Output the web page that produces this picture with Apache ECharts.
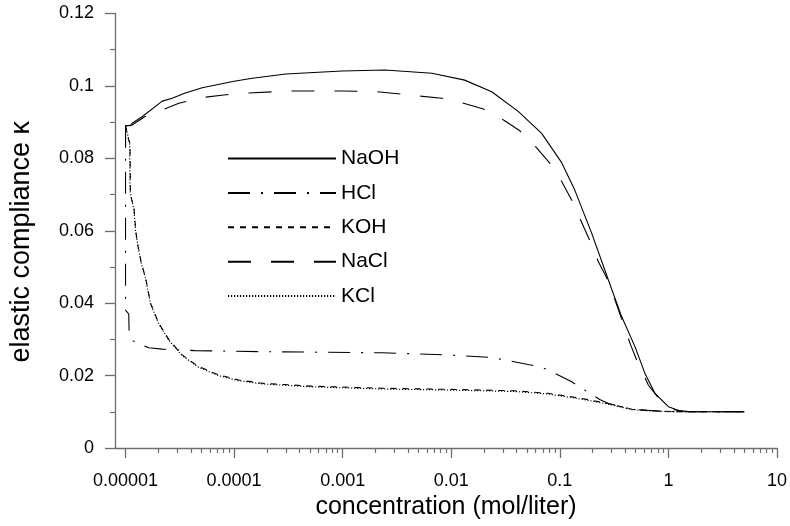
<!DOCTYPE html>
<html>
<head>
<meta charset="utf-8">
<script src="https://cdn.jsdelivr.net/npm/echarts@6/dist/echarts.min.js"></script>
<style>
  html, body { margin: 0; padding: 0; background: #fff; }
  #chart { width: 790px; height: 526px; }
</style>
</head>
<body>
<div id="chart"></div>
<script>
// concentration (mol/liter), elastic compliance
const naohData = [
  [1e-5, 0.0834], [1e-5, 0.089], [1.11e-5, 0.089], [1.15e-5, 0.0897], [1.42e-5, 0.0915],
  [2.18e-5, 0.0958], [2.69e-5, 0.0966], [3.5e-5, 0.098], [5.08e-5, 0.0995], [1e-4, 0.1013],
  [1.47e-4, 0.1021], [3e-4, 0.1033], [9.86e-4, 0.1041], [2.45e-3, 0.1044], [6.64e-3, 0.1035],
  [0.0133, 0.1016], [0.0236, 0.0984], [0.0416, 0.0929], [0.068, 0.0869], [0.104, 0.0788],
  [0.137, 0.0713], [0.196, 0.0594], [0.28, 0.0464], [0.371, 0.0363], [0.492, 0.028],
  [0.608, 0.0206], [0.752, 0.0151], [1.0, 0.0114], [1.32, 0.0101], [2, 0.01], [5, 0.01]
]
const hclData = [
  [1e-5, 0.089], [1e-5, 0.0381], [1.07e-5, 0.037], [1.08e-5, 0.0317], [1.15e-5, 0.0298],
  [1.28e-5, 0.0289], [1.64e-5, 0.0277], [2.18e-5, 0.0273], [4.38e-5, 0.0269], [1.81e-4, 0.0266],
  [2.3e-3, 0.0263], [9.45e-3, 0.0257], [0.0236, 0.025], [0.0446, 0.0234], [0.068, 0.0223],
  [0.0841, 0.0211], [0.1285, 0.0183], [0.1693, 0.016], [0.233, 0.0134], [0.28, 0.0123],
  [0.46, 0.0107], [0.8, 0.0102], [1.3, 0.01], [5, 0.01]
]
const kohData = [
  [1e-5, 0.089], [1.05e-5, 0.086], [1.1e-5, 0.084], [1.11e-5, 0.07], [1.2e-5, 0.066],
  [1.24e-5, 0.06], [1.3e-5, 0.056], [1.4e-5, 0.051], [1.53e-5, 0.047], [1.7e-5, 0.04],
  [2.03e-5, 0.0344], [2.5e-5, 0.03], [3.3e-5, 0.0258], [4.7e-5, 0.0225], [7.2e-5, 0.0202],
  [1.1e-4, 0.0188], [1.8e-4, 0.0179], [5e-4, 0.0171], [2.3e-3, 0.0165], [9.5e-3, 0.0162],
  [0.0385, 0.0158], [0.0785, 0.0151], [0.158, 0.0137], [0.28, 0.0123], [0.46, 0.0107],
  [0.8, 0.0102], [1.3, 0.01], [5, 0.01]
]
const naclData = [
  [1e-5, 0.089], [1.15e-5, 0.0892], [1.5e-5, 0.0915], [2.18e-5, 0.0934], [3.1e-5, 0.0952],
  [5.08e-5, 0.0968], [8.04e-5, 0.0975], [1.26e-4, 0.098], [3.19e-4, 0.0986], [9.86e-4, 0.0986],
  [2.07e-3, 0.0984], [5.14e-3, 0.0972], [8.2e-3, 0.0966], [0.013, 0.0952], [0.0198, 0.0936],
  [0.0303, 0.0906], [0.0428, 0.0876], [0.0612, 0.0829], [0.0807, 0.0787], [0.104, 0.0736],
  [0.1285, 0.0685], [0.158, 0.0625], [0.188, 0.0574], [0.226, 0.0515], [0.27, 0.047],
  [0.322, 0.0409], [0.443, 0.0289], [0.51, 0.0243], [0.653, 0.0174], [0.835, 0.0133],
  [1.15, 0.0105], [1.6, 0.01], [5, 0.01]
]
const kclData = [
  [1e-5, 0.089], [1.04e-5, 0.087], [1.09e-5, 0.084], [1.1e-5, 0.071], [1.19e-5, 0.066],
  [1.24e-5, 0.0598], [1.3e-5, 0.0558], [1.4e-5, 0.0508], [1.53e-5, 0.0468], [1.7e-5, 0.0398],
  [2.03e-5, 0.0342], [2.5e-5, 0.0298], [3.3e-5, 0.0256], [4.7e-5, 0.0223], [7.2e-5, 0.02],
  [1.1e-4, 0.0186], [1.8e-4, 0.0177], [5e-4, 0.0169], [2.3e-3, 0.0163], [9.5e-3, 0.016],
  [0.0385, 0.0156], [0.0785, 0.0149], [0.158, 0.0135], [0.28, 0.0121], [0.46, 0.0106],
  [0.8, 0.0101], [1.3, 0.01], [5, 0.01]
]

const seriesNames = ['NaOH', 'HCl', 'KOH', 'NaCl', 'KCl']
const xTickValues = [1e-5, 1e-4, 1e-3, 1e-2, 0.1, 1, 10]
const xTickLabels = ['0.00001', '0.0001', '0.001', '0.01', '0.1', '1', '10']
const xMinorValues = []
xTickValues.slice(0, -1).forEach(d => {
  for (let k = 2; k <= 9; k++) xMinorValues.push(+(d * k).toPrecision(3))
})

const FONT = '"Liberation Sans", Arial, sans-serif'
const axisGray = '#6e6e6e'

const chart = echarts.init(document.getElementById('chart'), null, { renderer: 'canvas' })

const dashes = {
  NaOH: 'solid',
  HCl: [22, 11, 2, 11],
  KOH: [6, 6],
  NaCl: [23, 20],
  KCl: [1.2, 1.8]
}
const dataByName = { NaOH: naohData, HCl: hclData, KOH: kohData, NaCl: naclData, KCl: kclData }

chart.setOption({
  animation: false,
  backgroundColor: '#fff',
  textStyle: { fontFamily: FONT },
  grid: { left: 113, right: 13, top: 13.5, bottom: 78 },
  legend: {
    orient: 'vertical',
    left: 222,
    top: 143,
    itemWidth: 108,
    itemHeight: 20,
    itemGap: 13.4,
    data: seriesNames,
    itemStyle: { opacity: 0 },
    textStyle: { fontSize: 21, color: '#000', fontFamily: FONT, lineHeight: 20 }
  },
  xAxis: [{
    type: 'log',
    min: 8e-6,
    max: 10,
    position: 'bottom',
    name: 'concentration (mol/liter)',
    nameLocation: 'middle',
    nameGap: 46,
    nameTextStyle: { fontSize: 25, color: '#000', fontFamily: FONT },
    axisLine: { lineStyle: { color: axisGray, width: 1.3 } },
    axisTick: { customValues: xTickValues, length: 10, lineStyle: { color: axisGray, width: 1.3 } },
    axisLabel: {
      customValues: xTickValues,
      fontSize: 18,
      color: '#000',
      margin: 24,
      formatter: v => {
        const i = xTickValues.findIndex(t => Math.abs(Math.log10(t) - Math.log10(v)) < 1e-6)
        return i >= 0 ? xTickLabels[i] : ''
      }
    },
    splitLine: { show: false }
  }, {
    type: 'log',
    min: 8e-6,
    max: 10,
    position: 'bottom',
    axisLine: { show: false },
    axisTick: { customValues: xMinorValues, length: 5, lineStyle: { color: axisGray, width: 1.2 } },
    axisLabel: { show: false },
    splitLine: { show: false }
  }],
  yAxis: {
    type: 'value',
    min: 0,
    max: 0.12,
    interval: 0.02,
    name: 'elastic compliance κ',
    nameLocation: 'middle',
    nameGap: 80,
    nameTextStyle: { fontSize: 27, color: '#000', fontFamily: FONT, padding: [0, 22, 0, 0] },
    axisLine: { show: true, lineStyle: { color: axisGray, width: 1.3 } },
    axisTick: { show: true, length: 10, lineStyle: { color: axisGray, width: 1.3 } },
    minorTick: { show: true, splitNumber: 2, length: 5, lineStyle: { color: axisGray, width: 1.2 } },
    axisLabel: { fontSize: 18, color: '#000', margin: 21 },
    splitLine: { show: false }
  },
  series: seriesNames.map(name => ({
    name,
    type: 'line',
    xAxisIndex: 0,
    data: dataByName[name],
    symbol: 'none',
    color: '#000',
    lineStyle: { color: '#000', width: 1.1, type: dashes[name] }
  }))
})
</script>
</body>
</html>
